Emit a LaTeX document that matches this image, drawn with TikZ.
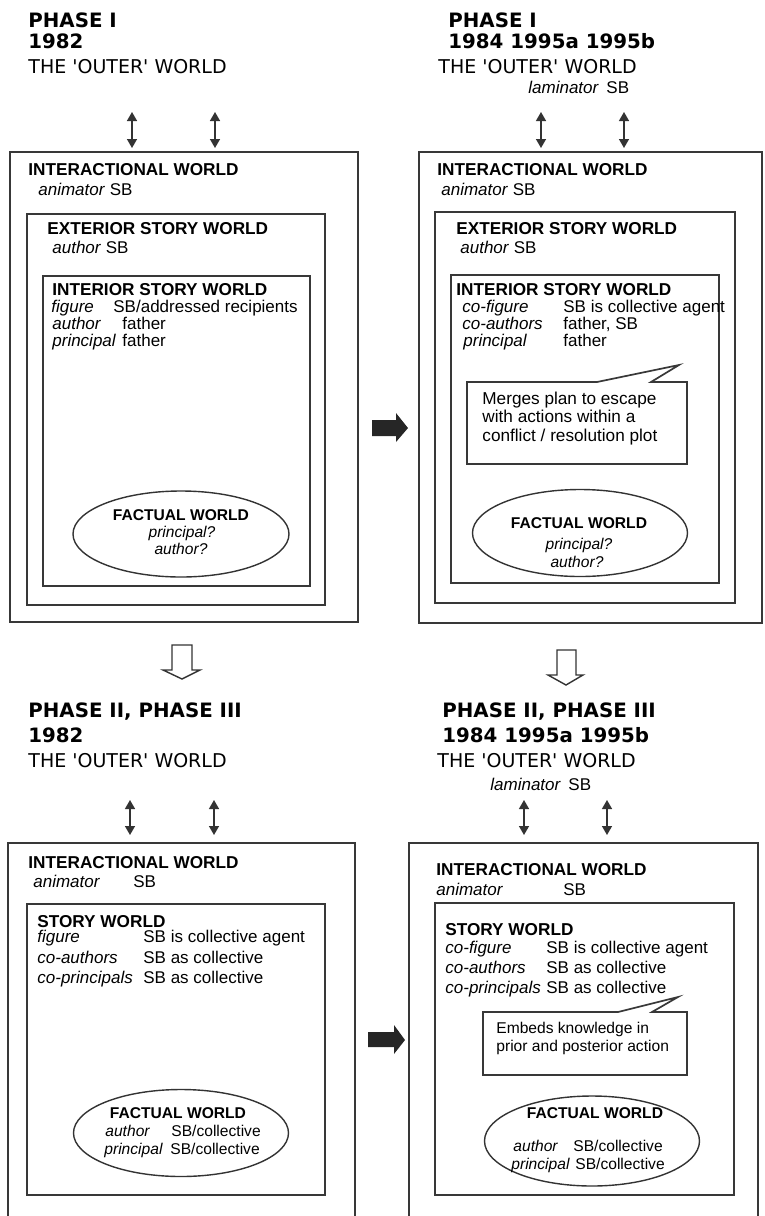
\documentclass[tikz,border=0pt]{standalone}
\usepackage{fontspec}
\setmainfont{Liberation Sans}
\newfontfamily\headfont{DejaVu Sans}
\usepackage{tikz}
\usetikzlibrary{arrows.meta,shapes.geometric}

\tikzset{
  wbox/.style={draw=black!78, line width=0.85pt},
  lbl/.style={anchor=base west, inner sep=0pt, font=\fontsize{8.5}{10}\selectfont},
  ttl/.style={anchor=base west, inner sep=0pt, font=\fontsize{8.6}{10}\selectfont\bfseries},
  rol/.style={anchor=base west, inner sep=0pt, font=\fontsize{8.5}{10}\selectfont\itshape},
  phs/.style={anchor=base west, inner sep=0pt, font=\headfont\bfseries\fontsize{9.9}{12}\selectfont},
  outr/.style={anchor=base west, inner sep=0pt, font=\headfont\fontsize{9.5}{12}\selectfont},
  fw/.style={draw=black!80, line width=0.7pt, ellipse, inner sep=0pt},
  fwt/.style={anchor=base, inner sep=0pt, font=\fontsize{7.8}{9}\selectfont\bfseries},
  fwi/.style={anchor=base, inner sep=0pt, font=\fontsize{7.8}{9}\selectfont\itshape},
  fwl/.style={anchor=base west, inner sep=0pt, font=\fontsize{7.8}{9}\selectfont},
  fwr/.style={anchor=base west, inner sep=0pt, font=\fontsize{7.8}{9}\selectfont\itshape},
  dbl/.style={{Triangle[width=5pt,length=4.5pt]}-{Triangle[width=5pt,length=4.5pt]}, line width=0.7pt, draw=black!80},
}
\newcommand{\oq}{\textquotesingle}

\begin{document}
\begin{tikzpicture}[x=0.5pt,y=-0.5pt]
\useasboundingbox (0,0) rectangle (765,1216);
%%% Phase I, 1982
\node[phs] (tlPhase) at (28,27) {PHASE I};
\node[phs] (tlYear) at (28,48) {1982};
\node[outr] (tlOuter) at (28,73) {THE \oq OUTER\oq{} WORLD};
\draw[wbox] (10,152) rectangle (358,622);
\draw[wbox] (27,214) rectangle (325,605);
\draw[wbox] (43,276) rectangle (310,586);
\node[ttl] (tlInt) at (28,175) {INTERACTIONAL WORLD};
\node[lbl] (tlAnim) at (38,195) {\textit{animator} SB};
\node[ttl] (tlExt) at (47,234) {EXTERIOR STORY WORLD};
\node[lbl] (tlAuth) at (52,253) {\textit{author} SB};
\node[ttl] (tlIsw) at (52,295) {INTERIOR STORY WORLD};
\node[rol] (tlR1) at (51,312) {figure};
\node[lbl] (tlV1) at (113,312) {SB/addressed recipients};
\node[rol] (tlR2) at (52,329) {author};
\node[lbl] (tlV2) at (122,329) {father};
\node[rol] (tlR3) at (52,346) {principal};
\node[lbl] (tlV3) at (122,346) {father};
\node[fw, minimum width=108pt, minimum height=43pt] (tlFw) at (181,534) {};
\node[fwt] (tlFwT) at (181,520) {FACTUAL WORLD};
\node[fwi] (tlFw1) at (182,537) {principal?};
\node[fwi] (tlFw2) at (181,554) {author?};

%%% Phase I, 1984 1995a 1995b
\node[phs] (trPhase) at (448,27) {PHASE I};
\node[phs] (trYear) at (448,48) {1984 1995a 1995b};
\node[outr] (trOuter) at (438,73) {THE \oq OUTER\oq{} WORLD};
\node[lbl] (trLam) at (528,93) {\textit{laminator}\, SB};
\draw[wbox] (419,152) rectangle (762,623);
\draw[wbox] (435,212) rectangle (735,603);
\draw[wbox] (451,275) rectangle (719,583);
\node[ttl] (trInt) at (437,175) {INTERACTIONAL WORLD};
\node[lbl] (trAnim) at (441,195) {\textit{animator} SB};
\node[ttl] (trExt) at (456,234) {EXTERIOR STORY WORLD};
\node[lbl] (trAuth) at (460,253) {\textit{author} SB};
\node[ttl] (trIsw) at (456,295) {INTERIOR STORY WORLD};
\node[rol] (trR1) at (462,312) {co-figure};
\node[lbl] (trV1) at (563,312) {SB is collective agent};
\node[rol] (trR2) at (462,329) {co-authors};
\node[lbl] (trV2) at (563,329) {father, SB};
\node[rol] (trR3) at (463,346) {principal};
\node[lbl] (trV3) at (563,346) {father};
% callout
\draw[wbox] (467,382) -- (597,382) -- (679,365) -- (651,382) -- (687,382)
  -- (687,464) -- (467,464) -- cycle;
\node[lbl, font=\fontsize{8.6}{10}\selectfont] (trNote1) at (482,404) {Merges plan to escape};
\node[lbl, font=\fontsize{8.6}{10}\selectfont] (trNote2) at (482,422) {with actions within a};
\node[lbl, font=\fontsize{8.6}{10}\selectfont] (trNote3) at (482,441) {conflict / resolution plot};
\node[fw, minimum width=107.5pt, minimum height=43.5pt] (trFw) at (580,533) {};
\node[fwt] (trFwT) at (579,528) {FACTUAL WORLD};
\node[fwi] (trFw1) at (579,549) {principal?};
\node[fwi] (trFw2) at (577,567) {author?};

%%% Phase II, Phase III, 1982
\node[phs] (blPhase) at (28,717) {PHASE II, PHASE III};
\node[phs] (blYear) at (28,742) {1982};
\node[outr] (blOuter) at (28,767) {THE \oq OUTER\oq{} WORLD};
\draw[wbox] (8,1216) |- (355,843) -- (355,1216);
\draw[wbox] (27,904) rectangle (325,1195);
\node[ttl] (blInt) at (28,868) {INTERACTIONAL WORLD};
\node[rol] (blAnim) at (33,887) {animator};
\node[lbl] (blAnimV) at (133,887) {SB};
\node[ttl] (blSw) at (37,927) {STORY WORLD};
\node[rol] (blR1) at (37,942) {figure};
\node[lbl] (blV1) at (143,942) {SB is collective agent};
\node[rol] (blR2) at (37,963) {co-authors};
\node[lbl] (blV2) at (143,963) {SB as collective};
\node[rol] (blR3) at (37,983) {co-principals};
\node[lbl] (blV3) at (143,983) {SB as collective};
\node[fw, minimum width=107.5pt, minimum height=43.5pt] (blFw) at (181,1133) {};
\node[fwt] (blFwT) at (178,1118) {FACTUAL WORLD};
\node[fwr] (blFw1) at (105,1136) {author};
\node[fwl] (blFw1v) at (171,1136) {SB/collective};
\node[fwr] (blFw2) at (104,1154) {principal};
\node[fwl] (blFw2v) at (170,1154) {SB/collective};

%%% Phase II, Phase III, 1984 1995a 1995b
\node[phs] (brPhase) at (442,717) {PHASE II, PHASE III};
\node[phs] (brYear) at (442,742) {1984 1995a 1995b};
\node[outr] (brOuter) at (437,767) {THE \oq OUTER\oq{} WORLD};
\node[lbl] (brLam) at (490,790) {\textit{laminator}\, SB};
\draw[wbox] (409,1216) |- (758,843) -- (758,1216);
\draw[wbox] (435,903) rectangle (734,1195);
\node[ttl] (brInt) at (436,875) {INTERACTIONAL WORLD};
\node[rol] (brAnim) at (436,895) {animator};
\node[lbl] (brAnimV) at (563,895) {SB};
\node[ttl] (brSw) at (445,935) {STORY WORLD};
\node[rol] (brR1) at (445,953) {co-figure};
\node[lbl] (brV1) at (546,953) {SB is collective agent};
\node[rol] (brR2) at (445,973) {co-authors};
\node[lbl] (brV2) at (546,973) {SB as collective};
\node[rol] (brR3) at (445,993) {co-principals};
\node[lbl] (brV3) at (546,993) {SB as collective};
% callout
\draw[wbox] (483,1012) -- (618,1012) -- (678,997) -- (652,1012) -- (687,1012)
  -- (687,1075) -- (483,1075) -- cycle;
\node[lbl, font=\fontsize{7.8}{9}\selectfont] (brNote1) at (496,1033) {Embeds knowledge in};
\node[lbl, font=\fontsize{7.8}{9}\selectfont] (brNote2) at (496,1051) {prior and posterior action};
\node[fw, minimum width=107.5pt, minimum height=45pt] (brFw) at (592,1141) {};
\node[fwt] (brFwT) at (595,1118) {FACTUAL WORLD};
\node[fwr] (brFw1) at (513,1151) {author};
\node[fwl] (brFw1v) at (573,1151) {SB/collective};
\node[fwr] (brFw2) at (511,1169) {principal};
\node[fwl] (brFw2v) at (575,1169) {SB/collective};

%%% double arrows to the outer world
\foreach \x/\t/\b [count=\i] in {132/112/148, 215/112/148, 541/112/148, 624/112/148,
                                 130/800/835, 214/800/835, 524/800/835, 607/800/835}{
  \coordinate (up\i) at (\x,\t);
  \coordinate (dn\i) at (\x,\b);
  \draw[dbl] (up\i) -- (dn\i);
}

%%% block arrows
\fill[black!85] (372,420) -- (396,420) -- (396,413) -- (408,428) -- (396,442)
  -- (396,436) -- (372,436) -- cycle;
\fill[black!85] (368,1032) -- (394,1032) -- (394,1025) -- (405,1040) -- (394,1054)
  -- (394,1047) -- (368,1047) -- cycle;
%%% hollow arrows
\draw[black!80, line width=0.7pt] (172,645) -- (192,645) -- (192,670) -- (200,670)
  -- (182,679) -- (163,670) -- (172,670) -- cycle;
\draw[black!80, line width=0.7pt] (557,650) -- (576,650) -- (576,675) -- (583,675)
  -- (566,685) -- (548,675) -- (557,675) -- cycle;
\end{tikzpicture}
\end{document}
